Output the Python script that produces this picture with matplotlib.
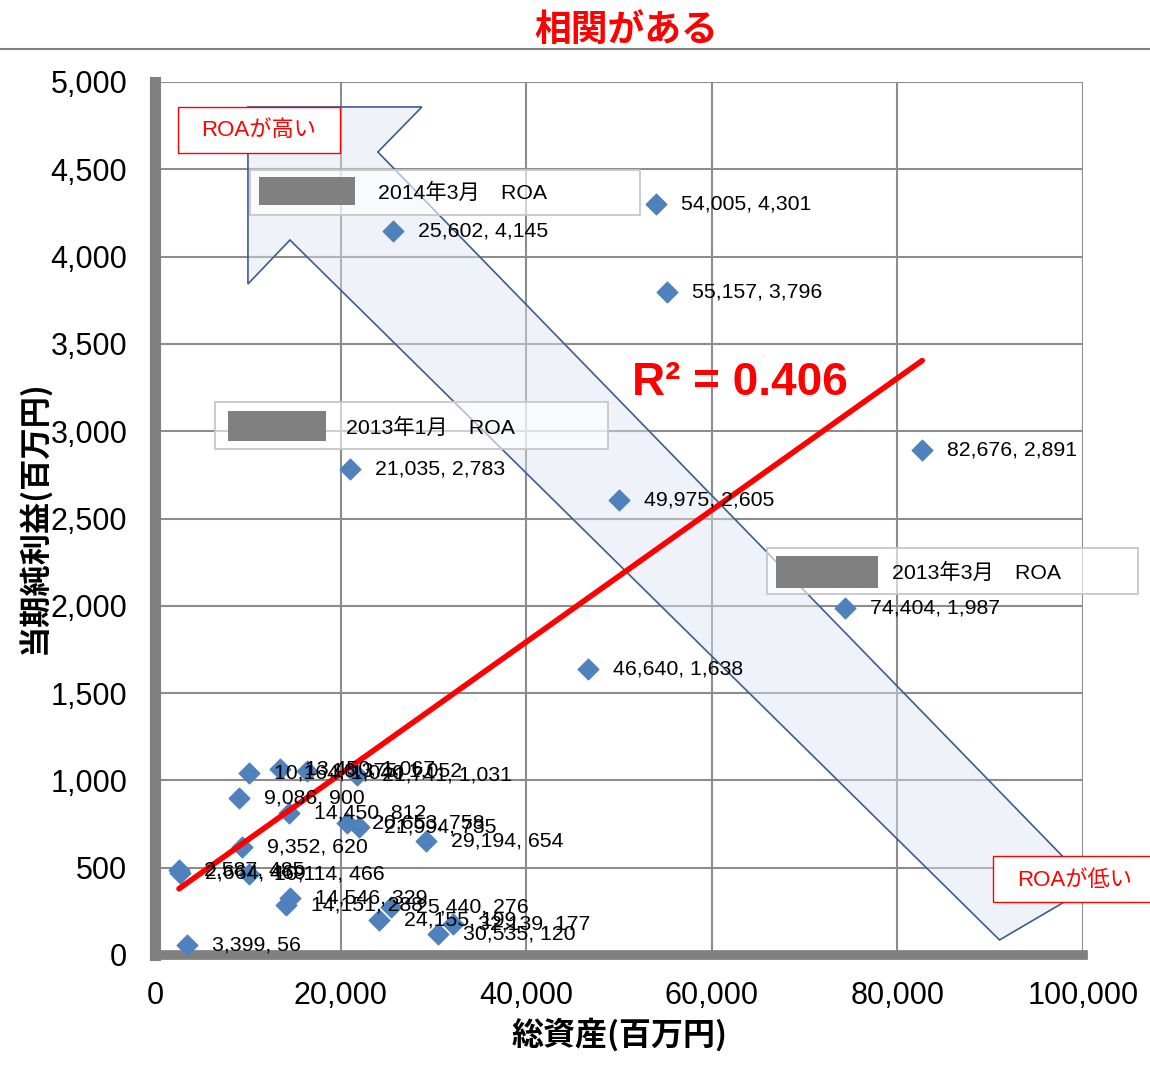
import numpy as np
import matplotlib
matplotlib.use("Agg")
import matplotlib.pyplot as plt
from matplotlib.patches import Polygon, Rectangle

plt.rcParams['font.family'] = ['Liberation Sans', 'Noto Sans CJK JP', 'DejaVu Sans']

# 総資産, 当期純利益 (百万円)
assets = [54005, 25602, 55157, 21035, 82676, 49975, 74404, 46640,
          10164, 13450, 16375, 21741, 9086, 14450, 20653, 21994,
          29194, 9352, 2587, 2664, 10114, 14546, 14151, 25440,
          24155, 32139, 30535, 3399]
profit = [4301, 4145, 3796, 2783, 2891, 2605, 1987, 1638,
          1040, 1067, 1052, 1031, 900, 812, 758, 735,
          654, 620, 485, 469, 466, 329, 288, 276,
          199, 177, 120, 56]
x_ticks = [0, 20000, 40000, 60000, 80000, 100000]
y_ticks = [0, 500, 1000, 1500, 2000, 2500, 3000, 3500, 4000, 4500, 5000]
r2_text = "R² = 0.406"

# 矢印 (データ座標)
arrow_x = [10016, 28756, 24017, 100916, 91007, 14540, 10016]
arrow_y = [4857, 4857, 4599, 395, 86, 4095, 3843]

W, H = 1150, 1085
fig = plt.figure(figsize=(W / 100, H / 100), dpi=100)
ax = fig.add_axes([155 / W, 1 - 955 / H, (1083 - 155) / W, (955 - 82) / H])

def fx(px):
    return px / W

def fy(py):
    return 1 - py / H

ax.set_xlim(0, 100000)
ax.set_ylim(0, 5000)
ax.set_xticks(x_ticks)
ax.set_yticks(y_ticks)
ax.set_xticklabels([f"{v:,}" for v in x_ticks], fontsize=22)
ax.set_yticklabels([f"{v:,}" for v in y_ticks], fontsize=22)
ax.tick_params(length=0, pad=19)
ax.tick_params(axis='y', pad=20)
ax.grid(True, color='#8c8c8c', lw=1.5, zorder=0)
ax.set_axisbelow(True)
for s in ['top', 'right']:
    ax.spines[s].set_visible(False)
ax.spines['left'].set_color('#808080')
ax.spines['left'].set_linewidth(8)
ax.spines['bottom'].set_color('#808080')
ax.spines['bottom'].set_linewidth(7)

# arrow
poly = Polygon(np.column_stack([arrow_x, arrow_y]), closed=True,
               facecolor='#dce6f2', alpha=0.45, edgecolor='none',
               zorder=1, clip_on=False)
ax.add_patch(poly)
poly2 = Polygon(np.column_stack([arrow_x, arrow_y]), closed=True,
                facecolor='none', edgecolor='#3b5e8c', lw=1.2,
                zorder=4, clip_on=False)
ax.add_patch(poly2)

# points
ax.scatter(assets, profit, marker='D', s=110, color='#4f81bd',
           edgecolor='#4f81bd', zorder=3)
for xv, yv in zip(assets, profit):
    ax.annotate(f"{xv:,}, {yv:,}", (xv, yv), xytext=(18, 0),
                textcoords='offset points', ha='left', va='center',
                fontsize=15.3, zorder=6)

# trend line
k, b = np.polyfit(assets, profit, 1)
xl = np.array([min(assets), max(assets)])
ax.plot(xl, k * xl + b, color='#ff0000', lw=4, zorder=5,
        solid_capstyle='round')
ax.text(fx(632), fy(383), r2_text, transform=fig.transFigure,
        color='#ff0000', fontsize=33, fontweight='bold', va='center',
        ha='left', zorder=7)

# title
fig.text(fx(626), fy(30), "相関がある", color='#ff0000', fontsize=26.5,
         fontweight='bold', ha='center', va='center',
         family=['Noto Sans CJK JP'])
fig.add_artist(plt.Line2D([0, 1], [fy(49), fy(49)], color='#808080',
                          lw=1.5, transform=fig.transFigure))

ax.set_xlabel("総資産(百万円)", fontsize=23, fontweight='bold',
              family=['Noto Sans CJK JP'])
ax.set_ylabel("当期純利益(百万円)", fontsize=22.5, fontweight='bold',
              family=['Noto Sans CJK JP'])
ax.xaxis.set_label_coords((620 - 155) / (1083 - 155), -(1035 - 955) / (955 - 82))
ax.yaxis.set_label_coords(-(155 - 34) / (1083 - 155), (955 - 517) / (955 - 82))
ax.xaxis.label.set_va('center')
ax.yaxis.label.set_va('center')

def fig_rect(x0, y0, x1, y1, fc, ec, lw=1.0, alpha=1.0, z=8):
    r = Rectangle((fx(x0), fy(y1)), fx(x1) - fx(x0), fy(y0) - fy(y1),
                  transform=fig.transFigure, facecolor=fc, edgecolor=ec,
                  lw=lw, alpha=alpha, zorder=z)
    fig.add_artist(r)

# red boxes
fig_rect(178, 107, 340, 153, 'white', '#ff0000', lw=1.0)
fig.text(fx(259), fy(131), "ROAが高い", color='#ff0000', fontsize=16,
         ha='center', va='center', zorder=9)
fig_rect(993, 856, 1152, 902, 'white', '#ff0000', lw=1.0)
fig.text(fx(1075), fy(880), "ROAが低い", color='#ff0000', fontsize=16,
         ha='center', va='center', zorder=9)

# ROA note boxes
notes = [((250, 170, 640, 215), (259, 177, 355, 205), 378, 193, "2014年3月　ROA"),
         ((215, 402, 608, 449), (228, 411, 326, 441), 346, 428, "2013年1月　ROA"),
         ((767, 548, 1138, 594), (776, 556, 878, 588), 892, 573, "2013年3月　ROA")]
for box, red, tx, ty, label in notes:
    fig_rect(*box, fc='white', ec='#c8c8c8', lw=1.2, alpha=0.6)
    fig_rect(*box, fc='none', ec='#c8c8c8', lw=1.2)
    fig_rect(*red, fc='#808080', ec='none', z=9)
    fig.text(fx(tx), fy(ty), label, fontsize=15.3, ha='left', va='center',
             zorder=9)

fig.savefig("out.png", dpi=100)
